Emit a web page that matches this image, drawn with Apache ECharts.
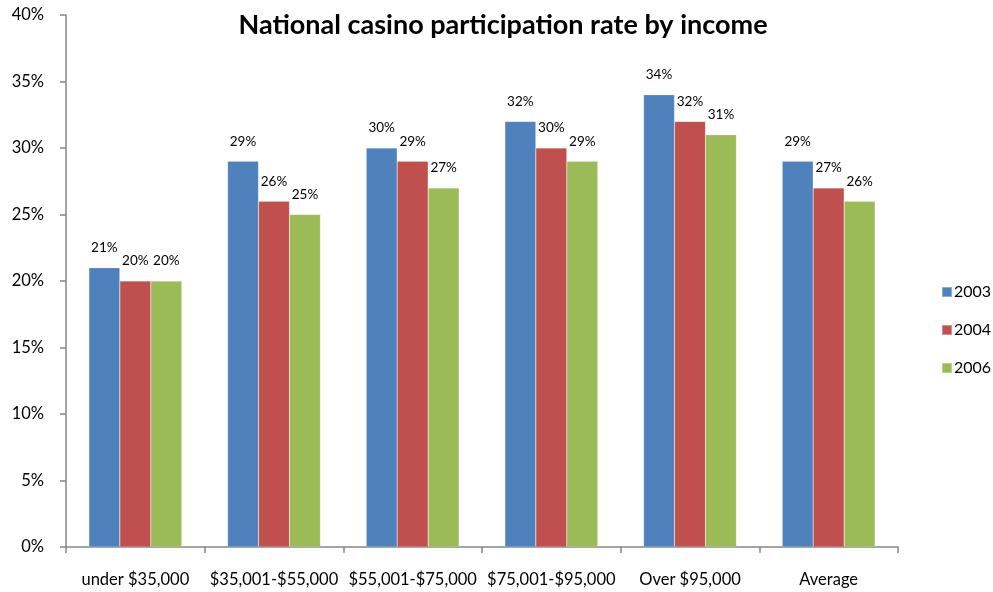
<!DOCTYPE html>
<html>
<head>
<meta charset="utf-8">
<script src="https://cdn.jsdelivr.net/npm/echarts@6/dist/echarts.min.js"></script>
<style>
  html, body { margin: 0; padding: 0; background: #fff; }
  #chart { width: 993px; height: 592px; }
</style>
</head>
<body>
<div id="chart"></div>
<script>
// Income brackets along the x axis
const categories = ['under $35,000', '$35,001-$55,000', '$55,001-$75,000', '$75,001-$95,000', 'Over $95,000', 'Average'];
// Participation rate (%) for each survey year
const years = ['2003', '2004', '2006'];
const rate2003 = [21, 29, 30, 32, 34, 29];
const rate2004 = [20, 26, 29, 30, 32, 27];
const rate2006 = [20, 25, 27, 29, 31, 26];
const seriesValues = [rate2003, rate2004, rate2006];
const colors = ['#4f81bd', '#c0504d', '#9bbb59'];

const font = 'Lato, "Open Sans", sans-serif';
const axisGray = '#868686';

const chart = echarts.init(document.getElementById('chart'));
chart.setOption({
  animation: false,
  textStyle: { fontFamily: font },
  title: {
    text: 'National casino participation rate by income',
    left: 498,
    textAlign: 'center',
    top: 7,
    textStyle: { fontFamily: font, fontSize: 27, fontWeight: 'bold', color: '#000' }
  },
  legend: {
    data: years,
    orient: 'vertical',
    left: 936,
    top: 279,
    itemWidth: 10,
    itemHeight: 10,
    itemGap: 22,
    icon: 'rect',
    textStyle: { fontFamily: font, fontSize: 16, color: '#000', padding: [0, 0, 0, -3] }
  },
  grid: { left: 66, right: 95, top: 15, bottom: 45, containLabel: false },
  xAxis: {
    type: 'category',
    data: categories,
    axisLine: { lineStyle: { color: axisGray, width: 1.5 } },
    axisTick: { show: true, length: 6, interval: 0, lineStyle: { color: axisGray, width: 1.5 } },
    axisLabel: { color: '#000', fontSize: 16.5, fontFamily: font, margin: 24, interval: 0 }
  },
  yAxis: {
    type: 'value',
    min: 0,
    max: 40,
    interval: 5,
    splitLine: { show: false },
    axisLine: { show: true, lineStyle: { color: axisGray, width: 1.5 } },
    axisTick: { show: true, length: 6, lineStyle: { color: axisGray, width: 1.5 } },
    axisLabel: { color: '#000', fontSize: 16.5, fontFamily: font, margin: 22, formatter: '{value}%' }
  },
  series: years.map((y, i) => ({
    name: y,
    type: 'bar',
    data: seriesValues[i],
    barGap: '0%',
    barCategoryGap: '33%',
    itemStyle: { color: colors[i], borderColor: 'rgba(255,255,255,0.35)', borderWidth: 0.5 },
    label: {
      show: true,
      position: 'top',
      distance: 13,
      formatter: '{c}%',
      color: '#000',
      fontSize: 13.5,
      fontFamily: font
    }
  }))
});
</script>
</body>
</html>
